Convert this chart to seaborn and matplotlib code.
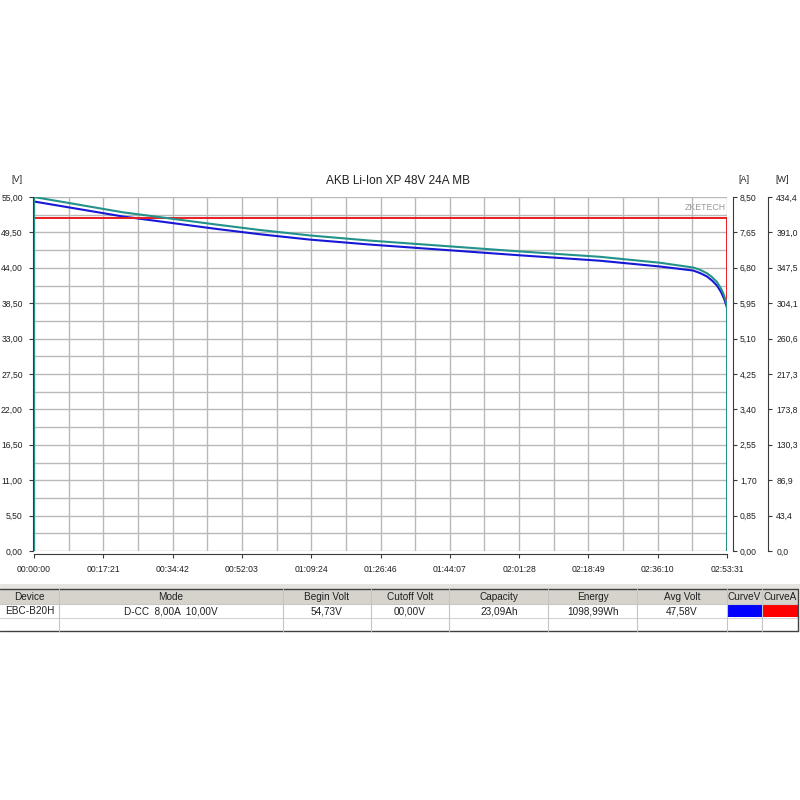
import numpy as np
import matplotlib
matplotlib.use("Agg")
import matplotlib.pyplot as plt
from matplotlib.patches import Rectangle
import seaborn as sns

# ---- data ----
title = "AKB Li-Ion XP 48V 24A MB"
run_seconds = 10411  # 02:53:31

# voltage curve (blue), seconds -> V
volt_time = [0, 1337, 2749, 3395, 4146, 5048, 6250, 7301, 8503, 9404,
             9900, 10005, 10110, 10185, 10260, 10321, 10366, 10406, 10411]
volt_values = [54.30, 51.97, 50.03, 49.21, 48.38, 47.61, 46.72, 45.94, 45.10, 44.20,
               43.58, 43.19, 42.65, 42.03, 41.25, 40.24, 39.23, 37.99, 37.75]

# power curve (teal), seconds -> W
power_time = [0, 0, 1337, 2749, 3395, 4146, 5048, 6250, 7301, 8503, 9404,
              9900, 10005, 10110, 10185, 10260, 10321, 10366, 10406, 10411, 10411]
power_values = [0, 434.4, 415.6, 400.5, 393.9, 387.2, 380.9, 373.8, 367.6, 361.0, 353.7,
                347.9, 345.1, 340.8, 336.2, 330.1, 322.1, 314.1, 303.1, 300.6, 0]

# current (red), seconds -> A
current_time = [0, 0, 10411, 10411]
current_values = [0, 8.0, 8.0, 0]

time_labels = ["00:00:00", "00:17:21", "00:34:42", "00:52:03", "01:09:24", "01:26:46",
               "01:44:07", "02:01:28", "02:18:49", "02:36:10", "02:53:31"]
volt_labels = ["0,00", "5,50", "11,00", "16,50", "22,00", "27,50", "33,00", "38,50", "44,00", "49,50", "55,00"]
amp_labels = ["0,00", "0,85", "1,70", "2,55", "3,40", "4,25", "5,10", "5,95", "6,80", "7,65", "8,50"]
watt_labels = ["0,0", "43,4", "86,9", "130,3", "173,8", "217,3", "260,6", "304,1", "347,5", "391,0", "434,4"]

table_header = ["Device", "Mode", "Begin Volt", "Cutoff Volt", "Capacity", "Energy", "Avg Volt", "CurveV", "CurveA"]
table_row = ["EBC-B20H", "D-CC  8,00A  10,00V", "54,73V", "00,00V", "23,09Ah", "1098,99Wh", "47,58V", "", ""]

V_MAX, A_MAX, W_MAX = 55.0, 8.5, 434.4

sns.set_theme(style="white")
plt.rcParams["font.family"] = ["Liberation Sans", "DejaVu Sans"]

W, H = 800, 800
fig = plt.figure(figsize=(8, 8), dpi=100)
fig.patch.set_facecolor("white")


def fx(px):
    return px / W


def fy(py):
    return 1 - py / H


# plot area: x 34..727, y 197..551 px
ax = fig.add_axes([fx(34), fy(551), fx(727 - 34), (551 - 197) / H])
ax_a = ax.twinx()
ax_w = ax.twinx()

grid_col = "#b9b9b9"
spine_col = "#3a3a3a"
text_col = "#202020"
tick_fs = 6.2

sns.lineplot(x=volt_time, y=volt_values, ax=ax, sort=False, estimator=None,
             color="#1717d8", linewidth=1.5, zorder=3)
sns.lineplot(x=current_time, y=current_values, ax=ax_a, sort=False, estimator=None,
             color="#ec1c24", linewidth=1.4)
sns.lineplot(x=power_time, y=power_values, ax=ax_w, sort=False, estimator=None,
             color="#23928a", linewidth=1.5)

ax.set_xlim(0, run_seconds)
ax.set_ylim(0, V_MAX)
ax_a.set_ylim(0, A_MAX)
ax_w.set_ylim(0, W_MAX)

x_major = np.linspace(0, run_seconds, len(time_labels))
ax.set_xticks(x_major, time_labels)
ax.set_xticks((x_major[:-1] + x_major[1:]) / 2, minor=True)
v_major = np.linspace(0, V_MAX, len(volt_labels))
ax.set_yticks(v_major, volt_labels)
ax.set_yticks((v_major[:-1] + v_major[1:]) / 2, minor=True)
ax_a.set_yticks(np.linspace(0, A_MAX, len(amp_labels)), amp_labels)
ax_w.set_yticks(np.linspace(0, W_MAX, len(watt_labels)), watt_labels)

ax.grid(True, which="both", color=grid_col, linewidth=1.0)
ax.set_axisbelow(True)
for a in (ax, ax_a, ax_w):
    a.set_xlabel("")
    a.set_ylabel("")
    for s in a.spines.values():
        s.set_visible(False)

ax.spines["left"].set_visible(True)
ax.spines["left"].set_position(("outward", 1))
ax.spines["bottom"].set_visible(True)
ax.spines["bottom"].set_position(("outward", 2))
ax_a.spines["right"].set_visible(True)
ax_a.spines["right"].set_position(("outward", 4.3))
ax_w.spines["right"].set_visible(True)
ax_w.spines["right"].set_position(("outward", 29.5))
for s in (ax.spines["left"], ax.spines["bottom"], ax_a.spines["right"], ax_w.spines["right"]):
    s.set_color(spine_col)
    s.set_linewidth(0.8)

ax.tick_params(axis="y", which="major", left=True, length=3, width=0.8, color=spine_col,
               labelsize=tick_fs, pad=4, labelcolor=text_col)
ax.tick_params(axis="x", which="major", bottom=True, length=3, width=0.8, color=spine_col,
               labelsize=tick_fs, pad=5, labelcolor=text_col)
ax.tick_params(which="minor", length=0)
ax_a.tick_params(axis="y", right=True, length=3, width=0.8, color=spine_col,
                 labelsize=tick_fs, pad=2, labelcolor=text_col)
ax_w.tick_params(axis="y", right=True, length=3, width=0.8, color=spine_col,
                 labelsize=tick_fs, pad=3, labelcolor=text_col)

# titles and unit tags
fig.text(fx(398), fy(181), title, ha="center", va="center", fontsize=8.5, color=text_col)
fig.text(fx(17), fy(179), "[V]", ha="center", va="center", fontsize=6.5, color=text_col)
fig.text(fx(744), fy(179), "[A]", ha="center", va="center", fontsize=6.5, color=text_col)
fig.text(fx(782), fy(179), "[W]", ha="center", va="center", fontsize=6.5, color=text_col)
fig.text(fx(726), fy(208), "ZKETECH", ha="right", va="center", fontsize=6.3, color="#9a9a9a")

# result table under the chart
col_edges = [0, 59.3, 282.7, 370.7, 449.3, 548.3, 637.3, 726.7, 762, 798]
band_top, head_top, row1_top, row2_top, table_bot = 584, 589, 604, 617.5, 631


def rect(x0, y0, x1, y1, **kw):
    fig.add_artist(Rectangle((fx(x0), fy(y1)), fx(x1 - x0), (y1 - y0) / H,
                             transform=fig.transFigure, **kw))


def hline(x0, x1, y, color, lw=0.8):
    fig.add_artist(plt.Line2D([fx(x0), fx(x1)], [fy(y), fy(y)], transform=fig.transFigure,
                              color=color, linewidth=lw))


def vline(x, y0, y1, color, lw=0.8):
    fig.add_artist(plt.Line2D([fx(x), fx(x)], [fy(y0), fy(y1)], transform=fig.transFigure,
                              color=color, linewidth=lw))


rect(0, band_top, 800, head_top, facecolor="#e6e4de", edgecolor="none")
rect(0, head_top, 798, row1_top, facecolor="#d6d3cc", edgecolor="none")
rect(0, row1_top, 798, table_bot, facecolor="white", edgecolor="none")
rect(col_edges[7], row1_top + 1, col_edges[8], row2_top - 0.5, facecolor="#0000ff", edgecolor="none")
rect(col_edges[8] + 1, row1_top + 1, col_edges[9], row2_top - 0.5, facecolor="#ff0000", edgecolor="none")

hline(0, 798, head_top, "#404040", 1.0)
hline(0, 798, row1_top, "#c8c8c8")
hline(0, 798, row2_top, "#d4d4d4")
hline(0, 798, table_bot, "#404040", 1.0)
vline(798, head_top, table_bot, "#404040", 1.0)
for xe in col_edges[1:-1]:
    vline(xe, head_top, table_bot, "#c4c4c4")

for i, (hd, val) in enumerate(zip(table_header, table_row)):
    cx = (col_edges[i] + col_edges[i + 1]) / 2
    fig.text(fx(cx), fy(596.5), hd, ha="center", va="center", fontsize=7.2, color=text_col)
    if val:
        fig.text(fx(cx), fy(611), val, ha="center", va="center", fontsize=7.2, color=text_col)

fig.savefig("out.png", dpi=100, facecolor="white")
